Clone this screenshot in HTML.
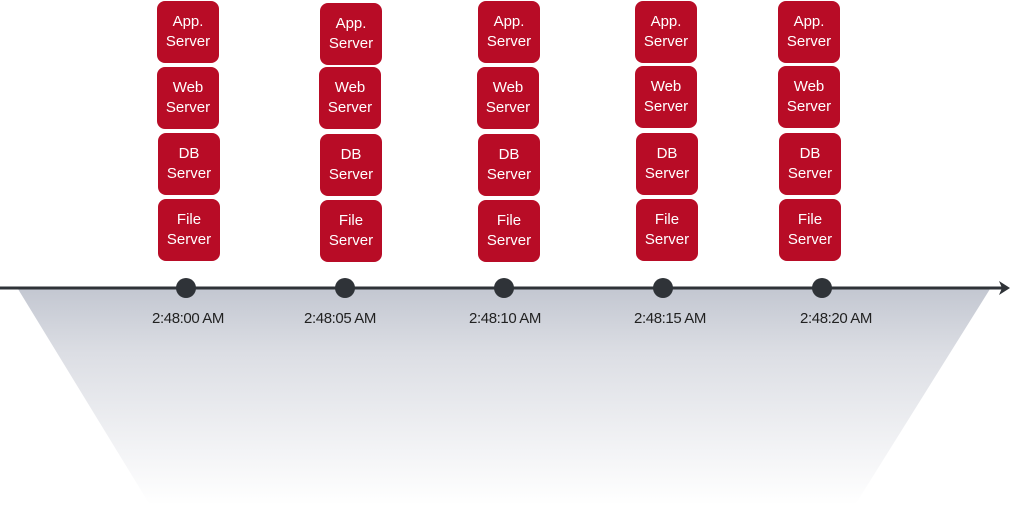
<!DOCTYPE html>
<html><head><meta charset="utf-8"><style>
html,body{margin:0;padding:0;background:#fff;}
body{width:1019px;height:509px;position:relative;overflow:hidden;font-family:"Liberation Sans",sans-serif;}
.b{position:absolute;width:62px;height:62px;background:#b80c26;border-radius:8px;color:#fff;font-size:15px;line-height:20px;display:flex;align-items:center;justify-content:center;text-align:center;}
.t{position:absolute;top:310px;width:100px;text-align:center;font-size:15px;color:#222;letter-spacing:-0.4px;}
</style></head><body>
<svg width="1019" height="509" style="position:absolute;left:0;top:0">
<defs><linearGradient id="g" x1="0" y1="0" x2="0" y2="1">
<stop offset="0" stop-color="#c3c7d1"/><stop offset="0.3" stop-color="#dcdee4"/><stop offset="0.65" stop-color="#eeeff2"/><stop offset="1" stop-color="#ffffff"/></linearGradient></defs>
<polygon points="18,289 990,289 855,505 150,505" fill="url(#g)"/>
<line x1="0" y1="288" x2="1003" y2="288" stroke="#2f3338" stroke-width="3"/>
<polygon points="1010,288 999,281 1002,288 999,295" fill="#2f3338"/>
<circle cx="186" cy="288" r="10" fill="#2f3338"/>
<circle cx="345" cy="288" r="10" fill="#2f3338"/>
<circle cx="504" cy="288" r="10" fill="#2f3338"/>
<circle cx="663" cy="288" r="10" fill="#2f3338"/>
<circle cx="822" cy="288" r="10" fill="#2f3338"/>
</svg>

<div class="b" style="left:157px;top:1px">App.<br>Server</div>
<div class="b" style="left:157px;top:67px">Web<br>Server</div>
<div class="b" style="left:158px;top:133px">DB<br>Server</div>
<div class="b" style="left:158px;top:199px">File<br>Server</div>

<div class="b" style="left:320px;top:3px">App.<br>Server</div>
<div class="b" style="left:319px;top:67px">Web<br>Server</div>
<div class="b" style="left:320px;top:134px">DB<br>Server</div>
<div class="b" style="left:320px;top:200px">File<br>Server</div>

<div class="b" style="left:478px;top:1px">App.<br>Server</div>
<div class="b" style="left:477px;top:67px">Web<br>Server</div>
<div class="b" style="left:478px;top:134px">DB<br>Server</div>
<div class="b" style="left:478px;top:200px">File<br>Server</div>

<div class="b" style="left:635px;top:1px">App.<br>Server</div>
<div class="b" style="left:635px;top:66px">Web<br>Server</div>
<div class="b" style="left:636px;top:133px">DB<br>Server</div>
<div class="b" style="left:636px;top:199px">File<br>Server</div>

<div class="b" style="left:778px;top:1px">App.<br>Server</div>
<div class="b" style="left:778px;top:66px">Web<br>Server</div>
<div class="b" style="left:779px;top:133px">DB<br>Server</div>
<div class="b" style="left:779px;top:199px">File<br>Server</div>

<div class="t" style="left:138px">2:48:00 AM</div>
<div class="t" style="left:290px">2:48:05 AM</div>
<div class="t" style="left:455px">2:48:10 AM</div>
<div class="t" style="left:620px">2:48:15 AM</div>
<div class="t" style="left:786px">2:48:20 AM</div>
</body></html>
